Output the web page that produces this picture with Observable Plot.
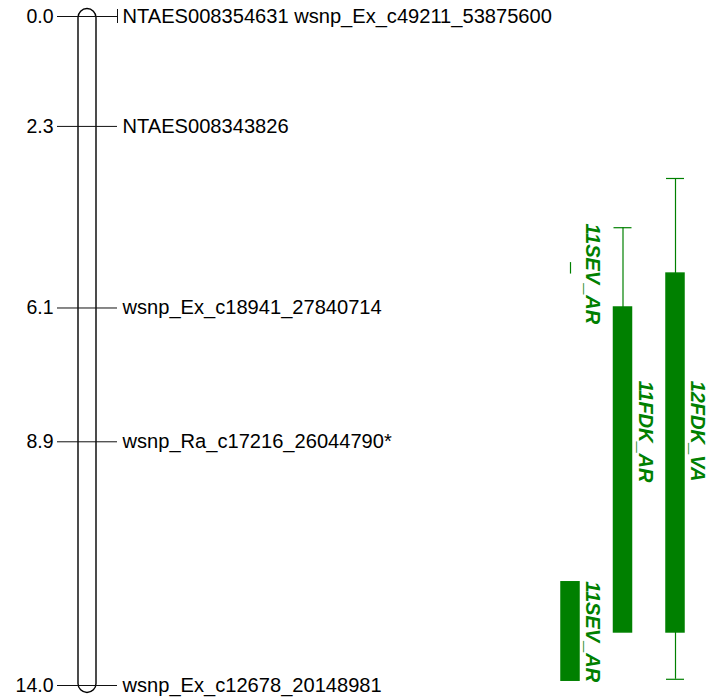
<!DOCTYPE html>
<html><head><meta charset="utf-8">
<script src="https://cdn.jsdelivr.net/npm/d3@7"></script>
<script src="https://cdn.jsdelivr.net/npm/@observablehq/plot@0.6"></script>
<style>body{margin:0;background:#fff}</style>
</head><body><div id="chart"></div>
<script>
// Linkage group markers (cM) and names
const markerPos  = [0.0, 0.0, 2.3, 6.1, 8.9, 14.0];
const markerName = ["NTAES008354631", "wsnp_Ex_c49211_53875600", "NTAES008343826",
                    "wsnp_Ex_c18941_27840714", "wsnp_Ra_c17216_26044790*", "wsnp_Ex_c12678_20148981"];

// QTL intervals (cM)
const qtlTrait   = ["11SEV_AR", "11SEV_AR", "11FDK_AR", "12FDK_VA"];
const qtlTrack   = [0, 0, 1, 2];
const qtlOuterLo = [5.15, null, 4.42, 3.39];
const qtlLo      = [5.39, 11.84, 6.09, 5.38];
const qtlHi      = [5.39, 13.90, 12.89, 12.89];
const qtlOuterHi = [null, null, null, 13.87];
const qtlLabelAt = [4.33, 11.82, 7.62, 7.62];

// ---- layout ----
const GREEN = "#008000";
const chromX = 87, chromHalf = 9;
const trackX = t => 570 + 52.5 * t;
const barHalf = 9;

const groups = d3.groups(markerPos.map((p, i) => ({pos: p, name: markerName[i]})), d => d.pos)
  .map(([pos, arr]) => ({pos, label: arr.map(d => d.name).join(" "), n: arr.length}));

const qtls = qtlTrait.map((t, i) => ({
  trait: t, x: trackX(qtlTrack[i]), outerLo: qtlOuterLo[i], lo: qtlLo[i],
  hi: qtlHi[i], outerHi: qtlOuterHi[i], labelAt: qtlLabelAt[i]
}));
const topWhisk = qtls.filter(d => d.outerLo != null);
const botWhisk = qtls.filter(d => d.outerHi != null);
const topCaps = topWhisk.filter(d => d.lo - d.outerLo > 0.5);
const botCaps = botWhisk.filter(d => d.outerHi - d.hi > 0.5);

const chrom = [{start: d3.min(markerPos), end: d3.max(markerPos)}];

const plot = Plot.plot({
  width: 708, height: 697,
  marginTop: 16, marginBottom: 12, marginLeft: 0, marginRight: 0,
  x: {type: "identity", axis: null},
  y: {domain: [0, 14], reverse: true, axis: null},
  style: {fontFamily: "'Liberation Sans', Arial, sans-serif", background: "white", overflow: "visible"},
  marks: [
    Plot.rect(chrom, {x1: chromX - chromHalf, x2: chromX + chromHalf, y1: "start", y2: "end",
      insetTop: -7.5, insetBottom: -7.5, rx: 9, fill: "white", stroke: "black", strokeWidth: 1.4}),
    Plot.ruleY(groups, {y: "pos", x1: 57, x2: 117, stroke: "#111", strokeWidth: 1}),
    Plot.ruleX(groups.filter(d => d.n > 1), {x: 117, y1: "pos", y2: "pos", insetTop: -7, insetBottom: -7, stroke: "#111", strokeWidth: 1}),
    Plot.text(groups, {y: "pos", x: 53, text: d => d.pos.toFixed(1), textAnchor: "end", fontSize: 19.5, fill: "black"}),
    Plot.text(groups, {y: "pos", x: 122, text: "label", textAnchor: "start", fontSize: 20.1, fill: "black"}),
    // QTL whiskers
    Plot.ruleX(topWhisk, {x: "x", y1: "outerLo", y2: "lo", stroke: GREEN, strokeWidth: 1.2}),
    Plot.ruleX(botWhisk, {x: "x", y1: "hi", y2: "outerHi", stroke: GREEN, strokeWidth: 1.2}),
    Plot.ruleY(topCaps, {y: "outerLo", x1: d => d.x - barHalf, x2: d => d.x + barHalf, stroke: GREEN, strokeWidth: 1.2}),
    Plot.ruleY(botCaps, {y: "outerHi", x1: d => d.x - barHalf, x2: d => d.x + barHalf, stroke: GREEN, strokeWidth: 1.2}),
    // QTL bars
    Plot.rect(qtls, {x1: d => d.x - barHalf, x2: d => d.x + barHalf, y1: "lo", y2: "hi",
      fill: GREEN, stroke: GREEN, strokeWidth: 1.5}),
    // QTL labels
    Plot.text(qtls, {x: d => d.x + 22, y: "labelAt", text: "trait", rotate: 90, textAnchor: "start",
      fontSize: 20, fontWeight: "bold", fontStyle: "italic", fill: GREEN})
  ]
});
document.getElementById("chart").appendChild(plot);
</script></body></html>
